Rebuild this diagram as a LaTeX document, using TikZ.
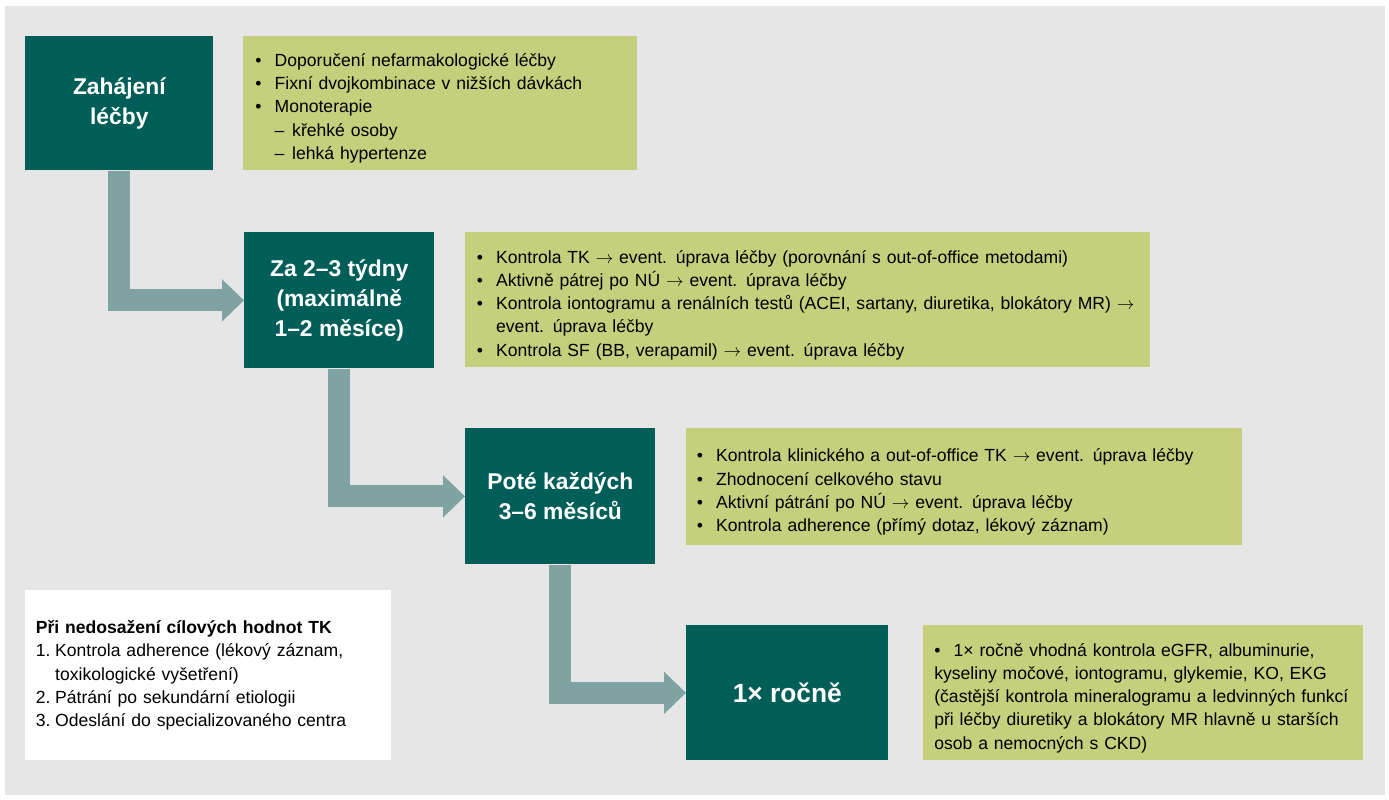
\documentclass[tikz,border=0pt]{standalone}
\usepackage{fontspec}
\setmainfont{Liberation Sans}
\usetikzlibrary{arrows.meta}
\definecolor{darkteal}{HTML}{005E58}
\definecolor{olive}{HTML}{C5CF7C}
\definecolor{flowgray}{HTML}{7FA3A3}
\definecolor{bggray}{HTML}{E6E6E6}
\newcommand{\itm}{\par\hangindent=1.1em\hangafter=1\makebox[1.1em][l]{\textbullet}}
\newcommand{\sub}{\par\hangindent=1.1em\hangafter=1\hspace*{1.1em}\makebox[1em][l]{--}}
\newcommand{\num}[1]{\par\hangindent=1.1em\hangafter=1\makebox[1.1em][l]{#1.}}
\tikzset{
  stage/.style={fill=darkteal, text=white, font=\bfseries\fontsize{13}{17}\selectfont,
    align=center, anchor=north west, inner sep=0pt},
  note/.style={fill=olive, anchor=north west, align=left, inner xsep=6pt, inner ysep=4pt,
    font=\fontsize{10}{13.2}\selectfont},
  flow/.style={draw=flowgray, line width=0.44cm, line join=miter,
    -{Triangle[width=0.82cm,length=0.44cm]}}
}
\begin{document}
\begin{tikzpicture}[x=0.02cm,y=-0.02cm]
\useasboundingbox (0,0) rectangle (1389,800);
\fill[bggray] (5,6) rectangle (1385,795);

% stages
\node[stage, minimum width=188*0.02cm, minimum height=134*0.02cm] (z1) at (25,36) {Zahájení\\léčby};
\node[stage, minimum width=190*0.02cm, minimum height=136*0.02cm] (z2) at (244,232) {Za 2--3 týdny\\(maximálně\\1--2 měsíce)};
\node[stage, minimum width=190*0.02cm, minimum height=136*0.02cm] (z3) at (465,428) {Poté každých\\3--6 měsíců};
\node[stage, minimum width=202*0.02cm, minimum height=135*0.02cm, font=\bfseries\fontsize{15}{18}\selectfont] (z4) at (686,625) {1× ročně};

% notes
\node[note, minimum width=394*0.02cm, minimum height=132*0.02cm, text width=370*0.02cm] (n1) at (243,36)
  {\itm Doporučení nefarmakologické léčby
   \itm Fixní dvojkombinace v nižších dávkách
   \itm Monoterapie
   \sub křehké osoby
   \sub lehká hypertenze};
\node[note, minimum width=685*0.02cm, minimum height=135*0.02cm, text width=662*0.02cm] (n2) at (465,232)
  {\itm Kontrola TK $\rightarrow$ event. úprava léčby (porovnání s out-of-office metodami)
   \itm Aktivně pátrej po NÚ $\rightarrow$ event. úprava léčby
   \itm Kontrola iontogramu a renálních testů (ACEI, sartany, diuretika, blokátory MR) $\rightarrow$ event. úprava léčby
   \itm Kontrola SF (BB, verapamil) $\rightarrow$ event. úprava léčby};
\node[note, minimum width=556*0.02cm, minimum height=117*0.02cm, text width=535*0.02cm] (n3) at (686,428)
  {\itm Kontrola klinického a out-of-office TK $\rightarrow$ event. úprava léčby
   \itm Zhodnocení celkového stavu
   \itm Aktivní pátrání po NÚ $\rightarrow$ event. úprava léčby
   \itm Kontrola adherence (přímý dotaz, lékový záznam)};
\node[note, minimum width=440*0.02cm, minimum height=135*0.02cm, text width=418*0.02cm] (n4) at (923,625)
  {\itm 1× ročně vhodná kontrola eGFR, albuminurie, kyseliny močové, iontogramu, glykemie, KO, EKG (častější kontrola mineralogramu a ledvinných funkcí při léčby diuretiky a blokátory MR hlavně u starších osob a nemocných s CKD)};

% failure box
\node[note, fill=white, minimum width=365*0.02cm, minimum height=170*0.02cm, text width=345*0.02cm] (fail) at (25,590)
  {{\bfseries Při nedosažení cílových hodnot TK}
   \num{1}Kontrola adherence (lékový záznam, toxikologické vyšetření)
   \num{2}Pátrání po sekundární etiologii
   \num{3}Odeslání do specializovaného centra};

% flow
\draw[flow] (z1.south) |- (z2.west);
\draw[flow] (z2.south) |- (z3.west);
\draw[flow] (z3.south) |- (z4.west);
\end{tikzpicture}
\end{document}
